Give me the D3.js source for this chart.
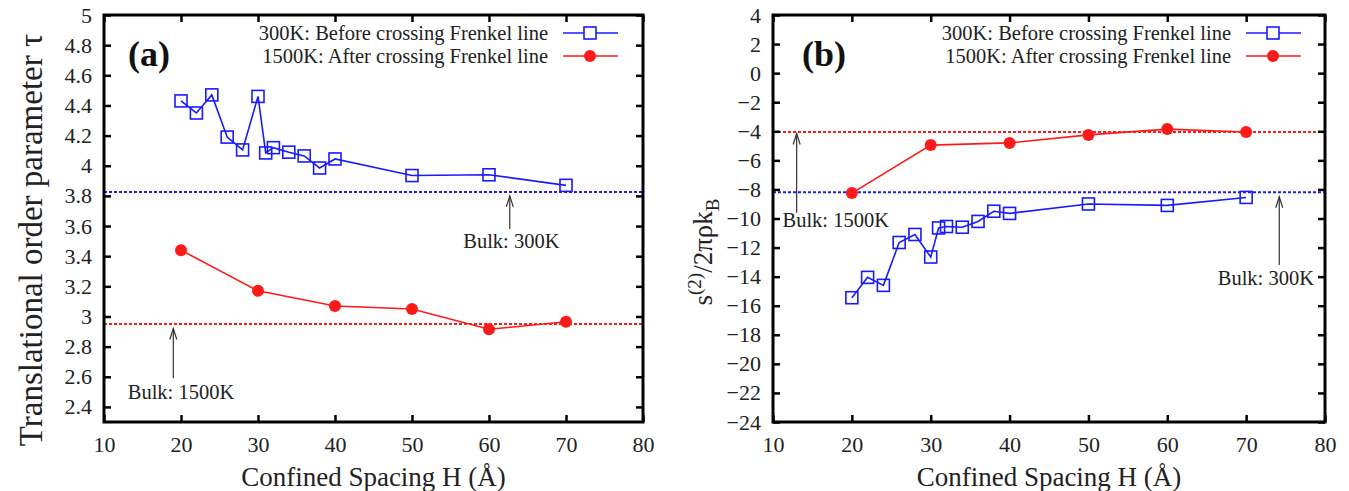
<!DOCTYPE html>
<html>
<head>
<meta charset="utf-8">
<script src="https://cdn.jsdelivr.net/npm/d3@7"></script>
<style>
  body { margin: 0; background: #fff; }
  svg { display: block; font-family: "Liberation Serif", "Times New Roman", serif; }
</style>
</head>
<body>
<svg id="chart" width="1349" height="491"></svg>
<script>
// confined spacing H (Angstrom)
const spacing300 = [20, 22, 24, 26, 28, 30, 31, 32, 34, 36, 38, 40, 50, 60, 70];
const spacing1500 = [20, 30, 40, 50, 60, 70];

// panel (a): translational order parameter tau
const tau300 = [4.43, 4.35, 4.47, 4.19, 4.105, 4.46, 4.085, 4.12, 4.09, 4.065, 3.985, 4.045, 3.935, 3.94, 3.87];
const tau1500 = [3.44, 3.17, 3.07, 3.05, 2.915, 2.965];
const tauBulk300 = 3.825;
const tauBulk1500 = 2.95;

// panel (b): two-body excess entropy
const s2_300 = [-15.45, -14.05, -14.6, -11.65, -11.1, -12.65, -10.65, -10.55, -10.6, -10.2, -9.5, -9.65, -9.0, -9.1, -8.55];
const s2_1500 = [-8.25, -4.95, -4.8, -4.25, -3.85, -4.05];
const s2Bulk300 = -8.2;
const s2Bulk1500 = -4.05;

const xTicks = [10, 20, 30, 40, 50, 60, 70, 80];
const tauTicks = [2.4, 2.6, 2.8, 3, 3.2, 3.4, 3.6, 3.8, 4, 4.2, 4.4, 4.6, 4.8, 5];
const s2Ticks = [-24, -22, -20, -18, -16, -14, -12, -10, -8, -6, -4, -2, 0, 2, 4];

const legendLabels = ["300K: Before crossing Frenkel line", "1500K: After crossing Frenkel line"];

const BLUE = "#1a1aff";
const RED = "#ff1a1a";

const svg = d3.select("#chart");

const fmt = v => String(v).replace("-", "\u2212");

function drawPanel(opt) {
    const x = d3.scaleLinear().domain([10, 80]).range([opt.left, opt.right]);
    const y = d3.scaleLinear().domain(opt.yDomain).range([opt.bottom, opt.top]);
    const g = svg.append("g");

    // bulk reference lines
    const bulk = [
        { v: opt.bulk300, c: BLUE },
        { v: opt.bulk1500, c: RED }
    ];
    g.selectAll(".bulk").data(bulk).enter().append("line")
        .attr("x1", opt.left).attr("x2", opt.right)
        .attr("y1", d => y(d.v)).attr("y2", d => y(d.v))
        .attr("stroke", d => d.c)
        .attr("stroke-width", 2)
        .attr("stroke-dasharray", "3,2");

    // ticks on all four sides, pointing inward
    const tl = 7;
    g.append("g").attr("transform", `translate(0,${opt.bottom})`)
        .call(d3.axisBottom(x).tickValues(xTicks).tickSize(-tl).tickPadding(14).tickFormat(fmt));
    g.append("g").attr("transform", `translate(0,${opt.top})`)
        .call(d3.axisTop(x).tickValues(xTicks).tickSize(-tl).tickFormat(""));
    g.append("g").attr("transform", `translate(${opt.left},0)`)
        .call(d3.axisLeft(y).tickValues(opt.yTicks).tickSize(-tl).tickPadding(12).tickFormat(fmt));
    g.append("g").attr("transform", `translate(${opt.right},0)`)
        .call(d3.axisRight(y).tickValues(opt.yTicks).tickSize(-tl).tickFormat(""));

    g.selectAll(".domain").remove();
    g.selectAll(".tick line").attr("stroke", "#000").attr("stroke-width", 2.5);
    g.selectAll(".tick text").attr("fill", "#222").style("font-size", "22px")
        .style("font-family", '"Liberation Serif", serif');

    g.append("rect")
        .attr("x", opt.left).attr("y", opt.top)
        .attr("width", opt.right - opt.left).attr("height", opt.bottom - opt.top)
        .attr("fill", "none").attr("stroke", "#000").attr("stroke-width", 3);

    // series
    const line = d3.line().x(d => x(d[0])).y(d => y(d[1]));
    const d300 = spacing300.map((h, i) => [h, opt.s300[i]]);
    const d1500 = spacing1500.map((h, i) => [h, opt.s1500[i]]);

    g.append("path").datum(d1500).attr("d", line)
        .attr("fill", "none").attr("stroke", RED).attr("stroke-width", 1.6);
    g.selectAll(".red").data(d1500).enter().append("circle")
        .attr("cx", d => x(d[0])).attr("cy", d => y(d[1])).attr("r", 6)
        .attr("fill", RED);

    g.append("path").datum(d300).attr("d", line)
        .attr("fill", "none").attr("stroke", BLUE).attr("stroke-width", 1.6);
    const sq = 12;
    g.selectAll(".blue").data(d300).enter().append("rect")
        .attr("x", d => x(d[0]) - sq / 2).attr("y", d => y(d[1]) - sq / 2)
        .attr("width", sq).attr("height", sq)
        .attr("fill", "none").attr("stroke", BLUE).attr("stroke-width", 1.6);

    // panel letter
    g.append("text").attr("x", opt.letterX).attr("y", 66)
        .style("font-size", "36px").style("font-weight", "bold")
        .attr("fill", "#111").text(opt.letter);

    // legend
    const rows = [
        { label: legendLabels[0], c: BLUE, sym: "square", yy: 33 },
        { label: legendLabels[1], c: RED, sym: "circle", yy: 56 }
    ];
    rows.forEach(r => {
        g.append("text").attr("x", opt.legX).attr("y", r.yy).attr("dy", "0.35em")
            .attr("text-anchor", "end").style("font-size", "20.5px").attr("fill", "#222")
            .text(r.label);
        g.append("line").attr("x1", opt.legX + 15).attr("x2", opt.legX + 70)
            .attr("y1", r.yy).attr("y2", r.yy)
            .attr("stroke", r.c).attr("stroke-width", 1.6);
        const mx = opt.legX + 42;
        if (r.sym === "square") {
            g.append("rect").attr("x", mx - sq / 2).attr("y", r.yy - sq / 2)
                .attr("width", sq).attr("height", sq)
                .attr("fill", "#fff").attr("stroke", r.c).attr("stroke-width", 1.6);
        } else {
            g.append("circle").attr("cx", mx).attr("cy", r.yy).attr("r", 6).attr("fill", r.c);
        }
    });

    // annotations
    opt.notes.forEach(n => {
        const ax = x(n.ax), y0 = y(n.tail), y1 = y(n.tip);
        g.append("line").attr("x1", ax).attr("x2", ax).attr("y1", y0).attr("y2", y1)
            .attr("stroke", "#333").attr("stroke-width", 1.2);
        g.append("path")
            .attr("d", `M${ax - 3.5},${y1 + 11}L${ax},${y1}L${ax + 3.5},${y1 + 11}`)
            .attr("fill", "none").attr("stroke", "#333").attr("stroke-width", 1.2);
        g.append("text").attr("x", x(n.tx)).attr("y", y(n.ty)).attr("dy", "0.35em")
            .attr("text-anchor", n.anchor).style("font-size", "20.5px").attr("fill", "#222")
            .text(n.label);
    });

    // x label
    g.append("text").attr("x", (opt.left + opt.right) / 2).attr("y", 477).attr("dy", "0.35em")
        .attr("text-anchor", "middle").style("font-size", "27px").attr("fill", "#222")
        .text("Confined Spacing H (\u00C5)");

    return g;
}

const ga = drawPanel({
    left: 104, right: 643, top: 15, bottom: 422,
    yDomain: [2.3, 5], yTicks: tauTicks,
    s300: tau300, s1500: tau1500,
    bulk300: tauBulk300, bulk1500: tauBulk1500,
    letter: "(a)", letterX: 128, legX: 548,
    notes: [
        { ax: 62.7, tail: 3.58, tip: 3.8, tx: 62.9, ty: 3.5, anchor: "middle", label: "Bulk: 300K" },
        { ax: 19, tail: 2.59, tip: 2.92, tx: 20, ty: 2.5, anchor: "middle", label: "Bulk: 1500K" }
    ]
});
ga.append("text")
    .attr("transform", "translate(30,240) rotate(-90)").attr("dy", "0.35em")
    .attr("text-anchor", "middle").style("font-size", "33px").attr("fill", "#222")
    .text("Translational order parameter \u03C4");

const gb = drawPanel({
    left: 773, right: 1325, top: 15, bottom: 422,
    yDomain: [-24, 4], yTicks: s2Ticks,
    s300: s2_300, s1500: s2_1500,
    bulk300: s2Bulk300, bulk1500: s2Bulk1500,
    letter: "(b)", letterX: 802, legX: 1231,
    notes: [
        { ax: 13.0, tail: -9.6, tip: -4.15, tx: 11.2, ty: -10.1, anchor: "start", label: "Bulk: 1500K" },
        { ax: 74.2, tail: -13.2, tip: -8.5, tx: 78.6, ty: -14.1, anchor: "end", label: "Bulk: 300K" }
    ]
});
const yl = gb.append("text")
    .attr("transform", "translate(712,252) rotate(-90)")
    .attr("text-anchor", "middle").style("font-size", "27px").attr("fill", "#222");
yl.append("tspan").text("s");
yl.append("tspan").attr("dy", -11).style("font-size", "19px").text("(2)");
yl.append("tspan").attr("dy", 11).text("/2\u03C0\u03C1k");
yl.append("tspan").attr("dy", 7).style("font-size", "19px").text("B");
</script>
</body>
</html>
